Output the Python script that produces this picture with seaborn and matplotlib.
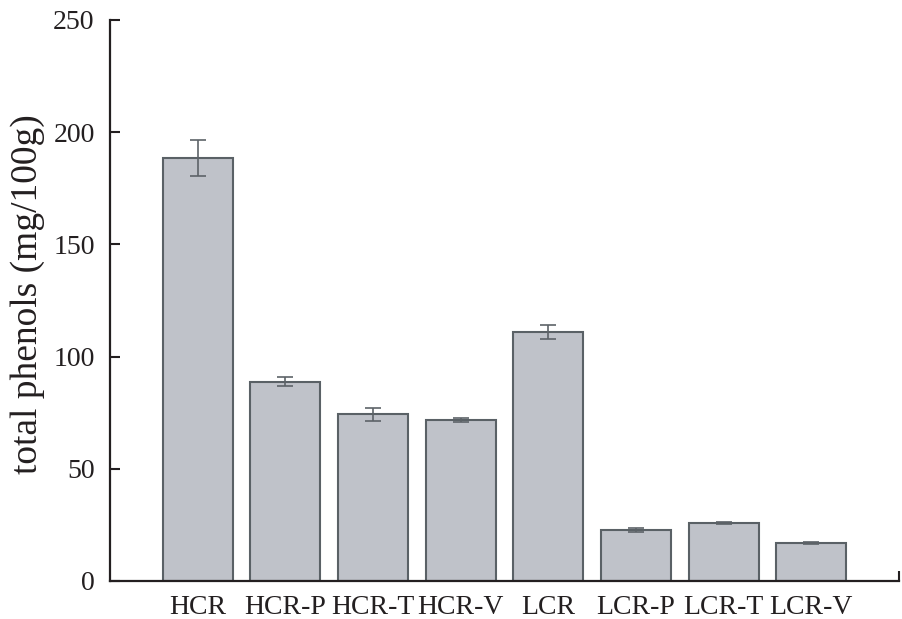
import matplotlib
matplotlib.use("Agg")
import matplotlib.pyplot as plt
import seaborn as sns
import pandas as pd

# Total phenol content per sample, with standard deviations
samples = ["HCR", "HCR-P", "HCR-T", "HCR-V", "LCR", "LCR-P", "LCR-T", "LCR-V"]
phenols = [188.5, 88.7, 74.4, 71.8, 111.0, 22.8, 25.8, 16.9]
errors = [7.8, 2.0, 2.9, 1.0, 3.0, 1.0, 0.5, 0.5]
y_ticks = [0, 50, 100, 150, 200, 250]

df = pd.DataFrame({"sample": samples, "phenols": phenols, "err": errors})

sns.set_theme(style="ticks")
plt.rcParams["font.family"] = ["Liberation Serif", "DejaVu Serif"]

fig = plt.figure(figsize=(9.03, 6.19), dpi=100)
ax = fig.add_axes([0.1218, 0.0614, 0.8738, 0.9063])

sns.barplot(data=df, x="sample", y="phenols", order=samples, errorbar=None,
            color="#bfc2c9", saturation=1, width=0.8,
            edgecolor="#5a6166", linewidth=1.5, ax=ax)

ax.errorbar(range(len(samples)), df["phenols"], yerr=df["err"], fmt="none",
            ecolor="#5d6368", elinewidth=1.2, capsize=6, capthick=1.2, zorder=5)

ax.set_xlim(-1, 8)
ax.set_ylim(0, 250)
ax.set_yticks(y_ticks)
ax.set_yticklabels([str(t) for t in y_ticks])
ax.set_xticks(list(range(len(samples))) + [8])
ax.set_xticklabels(samples + [""])

ax.set_xlabel("")
ax.set_ylabel("total phenols (mg/100g)", fontsize=27, color="#231f20")
ax.yaxis.set_label_coords(-0.082, 0.512)

for side in ["top", "right"]:
    ax.spines[side].set_visible(False)
for side in ["left", "bottom"]:
    ax.spines[side].set_color("#231f20")
    ax.spines[side].set_linewidth(1.6)

ax.tick_params(axis="both", direction="in", length=7, width=1.5,
               color="#231f20", labelsize=20, labelcolor="#231f20")
ax.tick_params(axis="x", pad=10)
ax.tick_params(axis="y", pad=11)

fig.savefig("out.png", dpi=100)
